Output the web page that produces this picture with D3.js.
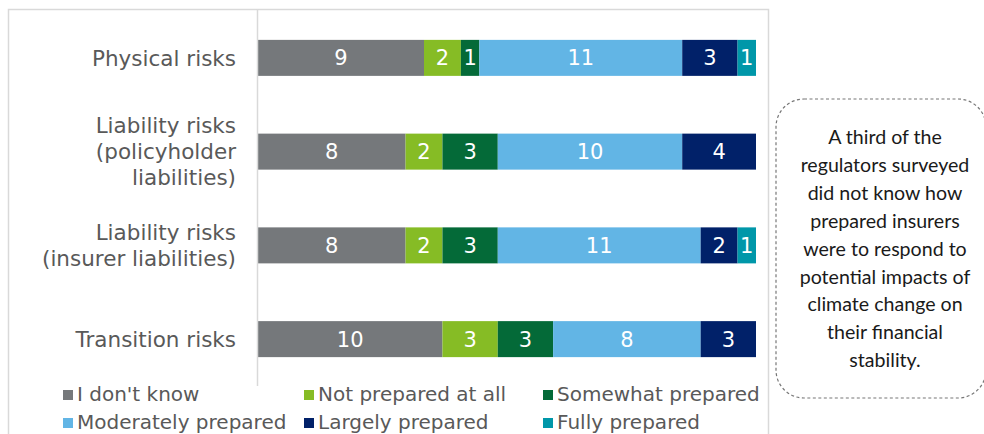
<!DOCTYPE html>
<html>
<head>
<meta charset="utf-8">
<script src="https://cdn.jsdelivr.net/npm/d3@7/dist/d3.min.js"></script>
<style>
  html, body { margin: 0; padding: 0; background: #fff; }
  svg { display: block; }
</style>
</head>
<body>
<svg id="chart" width="984" height="434"></svg>
<script>
// Survey: how prepared insurers are for climate-related risks (number of regulators)
const categories = [
  ["Physical risks"],
  ["Liability risks", "(policyholder", "liabilities)"],
  ["Liability risks", "(insurer liabilities)"],
  ["Transition risks"]
];
const categoryKeys = ["Physical", "Policyholder", "Insurer", "Transition"];
const seriesNames = ["I don't know", "Not prepared at all", "Somewhat prepared",
                     "Moderately prepared", "Largely prepared", "Fully prepared"];
const dontKnow    = [9, 8, 8, 10];
const notPrepared = [2, 2, 2, 3];
const somewhat    = [1, 3, 3, 3];
const moderately  = [11, 10, 11, 8];
const largely     = [3, 4, 2, 3];
const fully       = [1, 0, 1, 0];
const seriesColors = ["#75787b", "#86bc25", "#046a38", "#62b5e5", "#012169", "#0097a9"];
const xMax = 27;
const noteLines = ["A third of the", "regulators surveyed", "did not know how",
  "prepared insurers", "were to respond to", "potential impacts of",
  "climate change on", "their financial", "stability."];

const seriesValues = [dontKnow, notPrepared, somewhat, moderately, largely, fully];
const rows = categoryKeys.map((k, i) => {
  const r = { key: k };
  seriesNames.forEach((s, j) => r[s] = seriesValues[j][i]);
  return r;
});

const svg = d3.select("#chart");
const labelFont = "'DejaVu Sans', Verdana, sans-serif";

// Outer frame
svg.append("path")
  .attr("d", "M8.5,434 V9.5 H768.5 V434")
  .attr("fill", "none").attr("stroke", "#d9d9d9").attr("stroke-width", 1.5);

const x = d3.scaleLinear().domain([0, xMax]).range([258, 756]);
const y = d3.scaleBand().domain(categoryKeys).range([11, 386])
  .paddingInner(0.616).paddingOuter(0.308);
const color = d3.scaleOrdinal().domain(seriesNames).range(seriesColors);

const stacked = d3.stack().keys(seriesNames)(rows);

const layer = svg.append("g").selectAll("g").data(stacked).join("g")
  .attr("fill", d => color(d.key));
layer.selectAll("rect").data(d => d.map(p => ({ p, key: d.key })))
  .join("rect")
  .attr("x", d => x(d.p[0]))
  .attr("width", d => x(d.p[1]) - x(d.p[0]))
  .attr("y", d => y(d.p.data.key))
  .attr("height", y.bandwidth());

// Value labels in each segment
const labels = svg.append("g").attr("font-family", labelFont).attr("font-size", 21)
  .attr("fill", "#fff").attr("text-anchor", "middle");
stacked.forEach(s => {
  s.forEach(p => {
    const v = p[1] - p[0];
    if (v > 0) {
      labels.append("text")
        .attr("x", (x(p[0]) + x(p[1])) / 2)
        .attr("y", y(p.data.key) + y.bandwidth() / 2)
        .attr("dy", "0.36em")
        .text(v);
    }
  });
});

// Vertical axis line
const yAxis = d3.axisLeft(y).tickSize(0).tickFormat("");
const ga = svg.append("g").attr("transform", "translate(257.5,0)").call(yAxis);
ga.select(".domain").attr("d", "M0,9.5V386").attr("stroke", "#d9d9d9").attr("stroke-width", 1.5);

// Category labels (multi-line, right aligned)
const catG = svg.append("g").attr("font-family", labelFont).attr("font-size", 21.5)
  .attr("fill", "#595959").attr("text-anchor", "end");
categoryKeys.forEach((k, i) => {
  const lines = categories[i];
  const lh = 26;
  const cy = y(k) + y.bandwidth() / 2;
  const t = catG.append("text").attr("x", 236).attr("y", cy - (lines.length - 1) * lh / 2);
  lines.forEach((ln, j) => {
    t.append("tspan").attr("x", 236).attr("dy", j === 0 ? "0.36em" : lh).text(ln);
  });
});

// Legend
const legCols = [63, 304, 543];
const legRows = [401, 429];
const leg = svg.append("g").attr("font-family", labelFont).attr("font-size", 20).attr("fill", "#595959");
seriesNames.forEach((s, i) => {
  const cx = legCols[i % 3], by = legRows[Math.floor(i / 3)];
  leg.append("rect").attr("x", cx).attr("y", by - 11).attr("width", 10).attr("height", 10)
    .attr("fill", color(s));
  leg.append("text").attr("x", cx + 14).attr("y", by).text(s);
});

// Note box
svg.append("rect").attr("x", 776).attr("y", 99).attr("width", 210).attr("height", 299)
  .attr("rx", 28).attr("ry", 28)
  .attr("fill", "none").attr("stroke", "#777").attr("stroke-width", 1.2)
  .attr("stroke-dasharray", "3,2.5");
const note = svg.append("text").attr("font-family", "Lato, 'Open Sans', sans-serif")
  .attr("font-size", 19.6).attr("fill", "#1a1a1a").attr("text-anchor", "middle");
noteLines.forEach((ln, j) => {
  note.append("tspan").attr("x", 885).attr("y", 137 + j * 27.9).attr("dy", "0.36em").text(ln);
});
</script>
</body>
</html>
